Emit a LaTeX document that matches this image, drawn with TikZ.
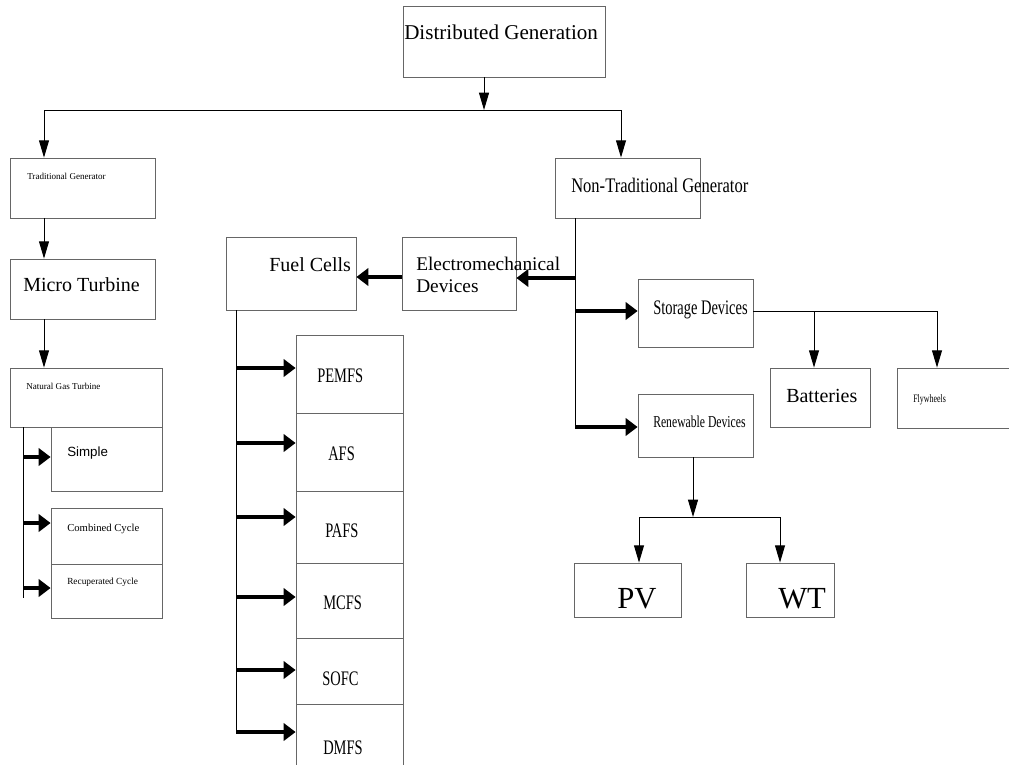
\documentclass[tikz,border=0pt]{standalone}
\usepackage{fontspec}
\setmainfont{Liberation Serif}
\newfontfamily\sansfont{Liberation Sans}
\newfontfamily\narrowfont[FakeStretch=0.7]{Liberation Serif}
\newfontfamily\semifont[FakeStretch=0.8]{Liberation Serif}
\usetikzlibrary{arrows.meta,fit}

\begin{document}
\begin{tikzpicture}[x=0.75pt,y=-0.75pt,
    box/.style={draw=black!60, line width=0.6pt, inner sep=0pt},
    txt/.style={anchor=base west, inner sep=0pt},
    wire/.style={line width=0.75pt},
    link/.style={-{Triangle[length=13pt,width=7.5pt]}, line width=0.75pt},
    heavy/.style={-{Triangle[length=9pt,width=13pt]}, line width=2.5pt}]
    \clip (0,0) rectangle (1009,764);

    % boxes
    \node (dg) [box, fit={(403,6) (605,77)}] {};
    \node (tg) [box, fit={(10,158) (155,218)}] {};
    \node (mt) [box, fit={(10,259) (155,319)}] {};
    \node (ngt) [box, fit={(10,368) (162,427)}] {};
    \node (simple) [box, fit={(51,427) (162,491)}] {};
    \node (cc) [box, fit={(51,508) (162,564)}] {};
    \node (rc) [box, fit={(51,564) (162,618)}] {};
    \node (ntg) [box, fit={(555,158) (700,218)}] {};
    \node (fc) [box, fit={(226,237) (356,310)}] {};
    \node (em) [box, fit={(402,237) (516,310)}] {};
    \node (sd) [box, fit={(638,279) (753,347)}] {};
    \node (rd) [box, fit={(638,394) (753,457)}] {};
    \node (bat) [box, fit={(770,368) (870,427)}] {};
    \node (fly) [box, fit={(897,368) (1030,428)}] {};
    \node (pv) [box, fit={(574,563) (681,617)}] {};
    \node (wt) [box, fit={(746,563) (834,617)}] {};
    \node (pemfs) [box, fit={(296,335) (403,413)}] {};
    \node (afs) [box, fit={(296,413) (403,491)}] {};
    \node (pafs) [box, fit={(296,491) (403,563)}] {};
    \node (mcfs) [box, fit={(296,563) (403,638)}] {};
    \node (sofc) [box, fit={(296,638) (403,704)}] {};
    \node (dmfs) [box, fit={(296,704) (403,790)}] {};

    % texts
    \node (dgt) [txt, font={\fontsize{15.8}{18}\selectfont}] at (404,39) {Distributed Generation};
    \node (tgt) [txt, font={\fontsize{6.8}{8}\selectfont}] at (27,179) {Traditional Generator};
    \node (mtt) [txt, font={\fontsize{15}{18}\selectfont}] at (23,291) {Micro Turbine};
    \node (ngtt) [txt, font={\fontsize{6.8}{8}\selectfont}] at (26,389) {Natural Gas Turbine};
    \node (simplet) [txt, font={\sansfont\fontsize{10}{12}\selectfont}] at (67,456) {Simple};
    \node (cct) [txt, font={\fontsize{8}{10}\selectfont}] at (67,531) {Combined Cycle};
    \node (rct) [txt, font={\fontsize{7}{9}\selectfont}] at (67,584) {Recuperated Cycle};
    \node (ntgt) [txt, font={\semifont\fontsize{15.5}{18}\selectfont}] at (571,192) {Non-Traditional Generator};
    \node (fct) [txt, font={\fontsize{15}{18}\selectfont}] at (269,271) {Fuel Cells};
    \node (emt) [txt, align=left, font={\fontsize{14.5}{16}\selectfont}] at (416,292) {Electromechanical\\Devices};
    \node (sdt) [txt, font={\narrowfont\fontsize{15.5}{18}\selectfont}] at (653,314) {Storage Devices};
    \node (rdt) [txt, font={\narrowfont\fontsize{12.5}{15}\selectfont}] at (653,427) {Renewable Devices};
    \node (batt) [txt, font={\fontsize{15}{18}\selectfont}] at (786,402) {Batteries};
    \node (flyt) [txt, font={\narrowfont\fontsize{8.5}{10}\selectfont}] at (913,402) {Flywheels};
    \node (pvt) [txt, font={\fontsize{23}{27}\selectfont}] at (617,608) {PV};
    \node (wtt) [txt, font={\fontsize{23}{27}\selectfont}] at (778,608) {WT};
    \node (pemfst) [txt, font={\narrowfont\fontsize{15.5}{18}\selectfont}] at (317,382) {PEMFS};
    \node (afst) [txt, font={\narrowfont\fontsize{15.5}{18}\selectfont}] at (328,460) {AFS};
    \node (pafst) [txt, font={\narrowfont\fontsize{15.5}{18}\selectfont}] at (325,537) {PAFS};
    \node (mcfst) [txt, font={\narrowfont\fontsize{15.5}{18}\selectfont}] at (323,609) {MCFS};
    \node (sofct) [txt, font={\narrowfont\fontsize{15.5}{18}\selectfont}] at (322,685) {SOFC};
    \node (dmfst) [txt, font={\narrowfont\fontsize{15.5}{18}\selectfont}] at (323,754) {DMFS};

    % top split
    \coordinate (top) at (484,110);
    \coordinate (bl) at (44,110);
    \coordinate (br) at (621,110);
    \draw[link] (dg.south -| top) -- (top);
    \draw[wire] (bl) -- (br);
    \draw[link] (bl) -- (bl |- tg.north);
    \draw[link] (br) -- (br |- ntg.north);
    \draw[link] (bl |- tg.south) -- (bl |- mt.north);
    \draw[link] (bl |- mt.south) -- (bl |- ngt.north);

    % gas turbine types
    \coordinate (gl) at (23,598);
    \draw[wire] (ngt.south -| gl) -- (gl);
    \foreach \b/\y in {simple/457, cc/523, rc/588}
        \draw[heavy] (gl |- 0,\y) -- (\b.west |- 0,\y);

    % fuel cell types
    \coordinate (fl) at (236,732);
    \draw[wire] (fc.south -| fl) -- (fl);
    \foreach \b/\y in {pemfs/368, afs/443, pafs/517, mcfs/597, sofc/670, dmfs/732}
        \draw[heavy] (fl |- 0,\y) -- (\b.west |- 0,\y);

    % non-traditional branch
    \coordinate (nl) at (575,427);
    \draw[wire] (ntg.south -| nl) -- (nl);
    \draw[heavy] (nl |- 0,278) -- (em.east |- 0,278);
    \draw[heavy] (em.west |- 0,277) -- (fc.east |- 0,277);
    \draw[heavy] (nl |- 0,311) -- (sd.west |- 0,311);
    \draw[heavy] (nl) -- (rd.west |- nl);

    % storage
    \coordinate (sm) at (814,311);
    \coordinate (sr) at (937,311);
    \draw[wire] (sd.east |- sr) -- (sr);
    \draw[link] (sm) -- (sm |- bat.north);
    \draw[link] (sr) -- (sr |- fly.north);

    % renewable
    \coordinate (rs) at (693,517);
    \coordinate (rl) at (639,517);
    \coordinate (rr) at (780,517);
    \draw[link] (rd.south -| rs) -- (rs);
    \draw[wire] (rl) -- (rr);
    \draw[link] (rl) -- (rl |- pv.north);
    \draw[link] (rr) -- (rr |- wt.north);
\end{tikzpicture}
\end{document}
